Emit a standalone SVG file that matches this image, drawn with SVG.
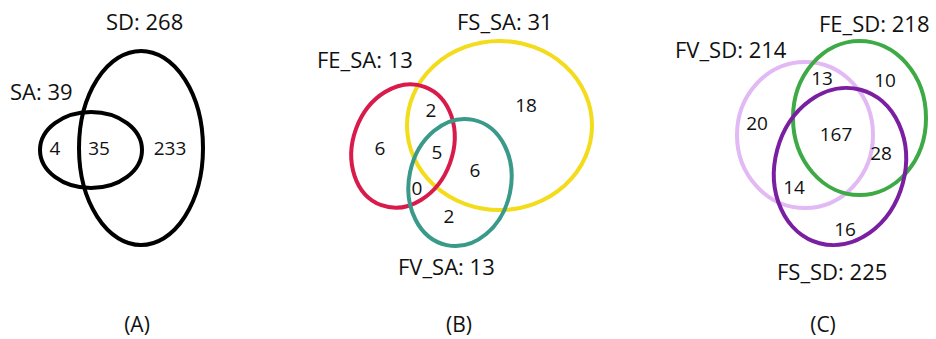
<svg xmlns="http://www.w3.org/2000/svg" width="936" height="339" viewBox="0 0 936 339">
<style>
text{font-family:"Open Sans","Liberation Sans",sans-serif;fill:#111}
.t{font-size:22px}
.n{font-size:19px;text-anchor:middle}
.p{font-size:21px;text-anchor:middle}
ellipse{fill:none;stroke-width:4}
</style>
<rect width="936" height="339" fill="#fff"/>
<g id="panelA">
<g id="SD"><ellipse cx="141" cy="148" rx="62" ry="97" stroke="#000"/><text class="t" x="106" y="30">SD: 268</text></g>
<g id="SA"><ellipse cx="91" cy="150" rx="51" ry="38" stroke="#000"/><text class="t" x="10" y="100">SA: 39</text></g>
<g id="A-counts"><text class="n" x="55" y="155">4</text><text class="n" x="99" y="155">35</text><text class="n" x="170" y="155">233</text></g>
<text class="p" x="137" y="332">(A)</text>
</g>
<g id="panelB">
<g id="FS_SA"><ellipse cx="499.5" cy="125.5" rx="92.5" ry="84.5" stroke="#F2DC1C"/><text class="t" x="457" y="30">FS_SA: 31</text></g>
<g id="FE_SA"><ellipse cx="0" cy="0" rx="50" ry="63" stroke="#D81B4A" transform="translate(403 146) rotate(20)"/><text class="t" x="317" y="68">FE_SA: 13</text></g>
<g id="FV_SA"><ellipse cx="0" cy="0" rx="51" ry="64" stroke="#3A9A8A" transform="translate(460 182.5) rotate(12)"/><text class="t" x="398" y="275">FV_SA: 13</text></g>
<g id="B-counts">
<text class="n" x="526" y="112">18</text><text class="n" x="431" y="117">2</text><text class="n" x="380" y="155">6</text><text class="n" x="437" y="159">5</text><text class="n" x="475" y="177">6</text><text class="n" x="417" y="195">0</text><text class="n" x="449" y="223">2</text>
</g>
<text class="p" x="459" y="332">(B)</text>
</g>
<g id="panelC">
<g id="FV_SD"><ellipse cx="805" cy="135" rx="68" ry="73" stroke="#E2B9F4"/><text class="t" x="675" y="58">FV_SD: 214</text></g>
<g id="FE_SD"><ellipse cx="859.5" cy="118" rx="66.5" ry="77" stroke="#3DAA45"/><text class="t" x="819" y="32">FE_SD: 218</text></g>
<g id="FS_SD"><ellipse cx="0" cy="0" rx="65" ry="79.5" stroke="#7A1FA2" transform="translate(840 166.5) rotate(15)"/><text class="t" x="777" y="280">FS_SD: 225</text></g>
<g id="C-counts">
<text class="n" x="822" y="85">13</text><text class="n" x="885" y="87">10</text><text class="n" x="757" y="130">20</text><text class="n" x="836" y="141">167</text><text class="n" x="881" y="160">28</text><text class="n" x="794" y="194">14</text><text class="n" x="845" y="236">16</text>
</g>
<text class="p" x="823" y="332">(C)</text>
</g>
</svg>
